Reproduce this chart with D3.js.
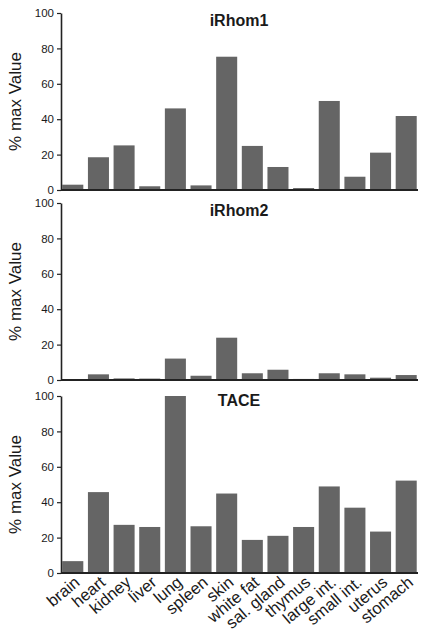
<!DOCTYPE html>
<html>
<head>
<meta charset="utf-8">
<script src="https://cdn.jsdelivr.net/npm/d3@7"></script>
<style>
  html, body { margin: 0; padding: 0; background: #fff; }
  svg { display: block; }
  text { font-family: "Liberation Sans", Arial, Helvetica, sans-serif; fill: #1a1a1a; }
</style>
</head>
<body>
<svg id="chart" width="428" height="635"></svg>
<script>
const categories = ["brain", "heart", "kidney", "liver", "lung", "spleen", "skin", "white fat", "sal. gland", "thymus", "large int.", "small int.", "uterus", "stomach"];
const panelTitles = ["iRhom1", "iRhom2", "TACE"];
const iRhom1 = [3.0, 18.5, 25.2, 2.1, 46.1, 2.6, 75.3, 24.9, 13.0, 1.1, 50.3, 7.5, 21.1, 41.8];
const iRhom2 = [0, 3.2, 0.9, 0.8, 12.1, 2.4, 23.9, 3.8, 5.8, 0.6, 3.8, 3.2, 1.3, 2.8];
const TACE = [6.7, 45.7, 27.2, 26.0, 100, 26.4, 44.9, 18.7, 21.0, 26.0, 48.9, 36.9, 23.4, 52.2];
const yTicks = [0, 20, 40, 60, 80, 100];
const yLabel = "% max Value";

const seriesList = [iRhom1, iRhom2, TACE];
const panelTops = [13, 203, 396];
const titleOffsets = [13, 13, 10];
const panelHeight = 177;
const xLeft = 61, xRight = 418;

const svg = d3.select("#chart");
const x = d3.scaleBand().domain(categories).range([xLeft, xRight]).paddingInner(0.18).paddingOuter(0.05);

seriesList.forEach((vals, i) => {
  const top = panelTops[i];
  const bottom = top + panelHeight;
  const y = d3.scaleLinear().domain([0, 100]).range([bottom, top]);
  const g = svg.append("g");

  g.selectAll("rect.bar").data(vals).join("rect")
    .attr("class", "bar")
    .attr("x", (d, j) => x(categories[j]))
    .attr("width", x.bandwidth())
    .attr("y", d => y(d))
    .attr("height", d => y(0) - y(d))
    .attr("fill", "#656565");

  const yAxis = g.append("g").attr("transform", `translate(${xLeft},0)`)
    .call(d3.axisLeft(y).tickValues(yTicks).tickSize(4).tickPadding(3).tickSizeOuter(0));
  yAxis.select(".domain").attr("stroke", "#222").attr("stroke-width", 1.6);
  yAxis.selectAll(".tick line").attr("stroke", "#222").attr("stroke-width", 1.2);
  yAxis.selectAll(".tick text").attr("font-size", 11.5).attr("fill", "#222")
    .style("font-family", "'Liberation Sans', Arial, sans-serif");

  const xAxis = g.append("g").attr("transform", `translate(0,${bottom})`)
    .call(d3.axisBottom(x).tickSize(0).tickSizeOuter(0).tickFormat(""));
  xAxis.select(".domain").attr("stroke", "#222").attr("stroke-width", 1.8)
    .attr("d", `M${xLeft},0H${xRight}`);

  g.append("text")
    .attr("x", 239).attr("y", top + titleOffsets[i])
    .attr("text-anchor", "middle")
    .attr("font-size", 16).attr("font-weight", "bold")
    .text(panelTitles[i]);

  g.append("text")
    .attr("transform", `translate(21,${(top + bottom) / 2}) rotate(-90)`)
    .attr("text-anchor", "middle")
    .attr("font-size", 17)
    .attr("fill", "#222")
    .text(yLabel);

  if (i === seriesList.length - 1) {
    g.selectAll("text.xlab").data(categories).join("text")
      .attr("class", "xlab")
      .attr("text-anchor", "end")
      .attr("font-size", 16.5)
      .attr("fill", "#222")
      .attr("transform", d => `translate(${x(d) + x.bandwidth() / 2 + 8},${bottom + 11}) rotate(-40)`)
      .text(d => d);
  }
});
</script>
</body>
</html>
